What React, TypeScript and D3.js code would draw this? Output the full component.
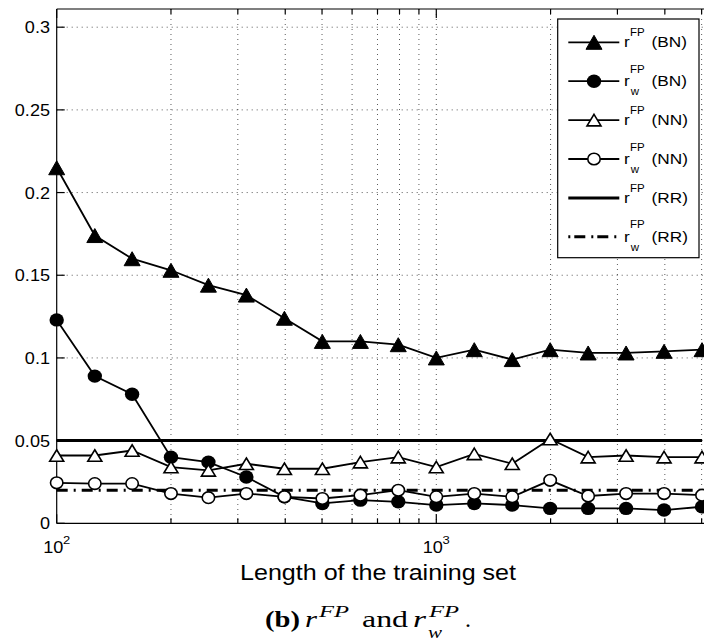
import React from 'react';
import * as d3 from 'd3';

// training set lengths (log axis)
const lengths = [100, 126, 158, 200, 251, 316, 398, 501, 631, 794, 1000, 1259, 1585, 1995, 2512, 3162, 3981, 5012];

// r^FP and r_w^FP for each method
const rBN = [0.215, 0.174, 0.16, 0.153, 0.144, 0.138, 0.124, 0.11, 0.11, 0.108, 0.1, 0.105, 0.099, 0.105, 0.103, 0.103, 0.104, 0.105];
const rwBN = [0.123, 0.089, 0.078, 0.04, 0.037, 0.028, 0.016, 0.012, 0.014, 0.013, 0.011, 0.012, 0.011, 0.009, 0.009, 0.009, 0.008, 0.01];
const rNN = [0.041, 0.041, 0.044, 0.034, 0.032, 0.036, 0.033, 0.033, 0.037, 0.04, 0.034, 0.042, 0.036, 0.051, 0.04, 0.041, 0.04, 0.04];
const rwNN = [0.0245, 0.024, 0.024, 0.018, 0.0155, 0.018, 0.016, 0.015, 0.017, 0.02, 0.016, 0.018, 0.016, 0.026, 0.0165, 0.018, 0.018, 0.017];
const rRR = 0.05;
const rwRR = 0.02;

const yTicks = [0, 0.05, 0.1, 0.15, 0.2, 0.25, 0.3];
const yTickLabels = ['0', '0.05', '0.1', '0.15', '0.2', '0.25', '0.3'];
const xMajor = [100, 1000];
const xMajorExp = ['2', '3'];
const xMinor = [200, 300, 400, 500, 600, 700, 800, 900, 2000, 3000, 4000, 5000];

const SANS = 'Liberation Sans, Arial, Helvetica, sans-serif';
const SERIF = 'Liberation Serif, Times New Roman, serif';

const W = 704;
const H = 642;
const left = 56.7;
const top = 9;
const bottom = 523.3;

const x = d3.scaleLog().domain([100, Math.pow(10, 3.72)]).range([left, left + 1.72 * 379.6]);
const y = d3.scaleLinear().domain([0, 0.311]).range([bottom, top]);

const line = d3.line<number>()
  .x((_, i) => x(lengths[i]))
  .y(d => y(d));

// markers
const triPath = (w: number, h: number) => `M0,${-h / 2}L${w / 2},${h / 2}L${-w / 2},${h / 2}Z`;

const Marker = ({ kind, cx, cy }: { kind: string; cx: number; cy: number }) => {
  if (kind === 'triF') return <path d={triPath(16, 14)} transform={`translate(${cx},${cy})`} fill="#000" stroke="#000" strokeWidth={1} />;
  if (kind === 'triO') return <path d={triPath(14, 11.5)} transform={`translate(${cx},${cy})`} fill="#fff" stroke="#000" strokeWidth={1.6} />;
  if (kind === 'circF') return <ellipse cx={cx} cy={cy} rx={7.2} ry={6.7} fill="#000" />;
  return <ellipse cx={cx} cy={cy} rx={6.2} ry={5.8} fill="#fff" stroke="#000" strokeWidth={1.6} />;
};

const series = [
  { vals: rBN, kind: 'triF' },
  { vals: rwBN, kind: 'circF' },
  { vals: rNN, kind: 'triO' },
  { vals: rwNN, kind: 'circO' },
];

const legendRows = [
  { kind: 'triF', w: false, method: 'BN' },
  { kind: 'circF', w: true, method: 'BN' },
  { kind: 'triO', w: false, method: 'NN' },
  { kind: 'circO', w: true, method: 'NN' },
  { kind: 'solid', w: false, method: 'RR' },
  { kind: 'dashdot', w: true, method: 'RR' },
];

const Stretch = ({ x0, y0, sx, children }: any) => (
  <g transform={`translate(${x0},${y0}) scale(${sx},1)`}>{children}</g>
);

export default function App() {
  const xEnd = x.range()[1];
  const dashDot = '11,6,2,6';

  return (
    <svg width={W} height={H} style={{ position: 'absolute', left: 0, top: 0, background: '#fff' }}>
      <rect width={W} height={H} fill="#fff" />

      {/* grid */}
      <g stroke="#000" strokeOpacity={0.65} strokeWidth={1} strokeDasharray="1,4">
        {yTicks.filter(t => t > 0).map(t => (
          <line key={'gy' + t} x1={left} x2={xEnd} y1={y(t)} y2={y(t)} />
        ))}
        {[...xMinor, 1000].map(v => (
          <line key={'gx' + v} x1={x(v)} x2={x(v)} y1={top} y2={bottom} />
        ))}
      </g>

      {/* axes box */}
      <g stroke="#000" strokeWidth={1.2} fill="none">
        <line x1={left} x2={left} y1={top} y2={bottom} />
        <line x1={left} x2={xEnd} y1={bottom} y2={bottom} />
        <line x1={left} x2={xEnd} y1={top} y2={top} />
        {yTicks.map(t => (
          <line key={'ty' + t} x1={left} x2={left + 8} y1={y(t)} y2={y(t)} />
        ))}
        {xMajor.map(v => (
          <g key={'tM' + v}>
            <line x1={x(v)} x2={x(v)} y1={bottom} y2={bottom - 9} />
            <line x1={x(v)} x2={x(v)} y1={top} y2={top + 9} />
          </g>
        ))}
        {xMinor.map(v => (
          <g key={'tm' + v}>
            <line x1={x(v)} x2={x(v)} y1={bottom} y2={bottom - 5} />
            <line x1={x(v)} x2={x(v)} y1={top} y2={top + 5} />
          </g>
        ))}
      </g>

      {/* y tick labels */}
      <g fontFamily={SANS} fontSize={16} fill="#000">
        {yTicks.map((t, i) => (
          <Stretch key={'ly' + t} x0={50} y0={y(t) + 6} sx={1.13}>
            <text textAnchor="end">{yTickLabels[i]}</text>
          </Stretch>
        ))}
        {xMajor.map((v, i) => (
          <g key={'lx' + v}>
            <Stretch x0={x(v) - 13.5} y0={553} sx={1.13}>
              <text>10</text>
            </Stretch>
            <Stretch x0={x(v) + 6.3} y0={544} sx={1.13}>
              <text fontSize={11.5}>{xMajorExp[i]}</text>
            </Stretch>
          </g>
        ))}
      </g>

      {/* reference lines (RR) */}
      <line x1={x(lengths[0])} x2={x(lengths[lengths.length - 1])} y1={y(rRR)} y2={y(rRR)} stroke="#000" strokeWidth={3} />
      <line x1={x(lengths[0])} x2={x(lengths[lengths.length - 1])} y1={y(rwRR)} y2={y(rwRR)} stroke="#000" strokeWidth={3} strokeDasharray={dashDot} />

      {/* series */}
      {series.map((s, si) => (
        <g key={'s' + si}>
          <path d={line(s.vals) || ''} fill="none" stroke="#000" strokeWidth={1.8} />
          {s.vals.map((v, i) => (
            <Marker key={i} kind={s.kind} cx={x(lengths[i])} cy={y(v)} />
          ))}
        </g>
      ))}

      {/* legend */}
      <g>
        <rect x={557.7} y={19} width={141.3} height={238.7} fill="#fff" stroke="#000" strokeWidth={1.2} />
        {legendRows.map((r, i) => {
          const ly = 42.3 + i * 38.9;
          return (
            <g key={'lg' + i}>
              {r.kind === 'dashdot' ? (
                <line x1={568.3} x2={619.3} y1={ly} y2={ly} stroke="#000" strokeWidth={3} strokeDasharray="2,4,11,6" />
              ) : (
                <line x1={568.3} x2={619.3} y1={ly} y2={ly} stroke="#000" strokeWidth={r.kind === 'solid' ? 3 : 1.8} />
              )}
              {r.kind !== 'solid' && r.kind !== 'dashdot' && <Marker kind={r.kind} cx={594} cy={ly} />}
              <Stretch x0={624} y0={ly + 5} sx={1.15}>
                <text fontFamily={SANS} fontSize={15}>r</text>
                <text fontFamily={SANS} fontSize={10} x={5.2} y={r.w ? -13.5 : -11}>FP</text>
                {r.w && <text fontFamily={SANS} fontSize={10} x={5.8} y={9}>w</text>}
                <text fontFamily={SANS} fontSize={15} x={24}>({r.method})</text>
              </Stretch>
            </g>
          );
        })}
      </g>

      {/* x label */}
      <text x={240} y={580} fontFamily={SANS} fontSize={22} textLength={276} lengthAdjust="spacingAndGlyphs">
        Length of the training set
      </text>

      {/* caption */}
      <g fontFamily={SERIF} fill="#000">
        <text x={265} y={626.7} fontSize={24} fontWeight="bold" textLength={35} lengthAdjust="spacingAndGlyphs">(b)</text>
        <text x={305} y={626.7} fontSize={24} fontStyle="italic" textLength={12} lengthAdjust="spacingAndGlyphs">r</text>
        <text x={319} y={616.5} fontSize={16} fontStyle="italic" textLength={30} lengthAdjust="spacingAndGlyphs">FP</text>
        <text x={362} y={626.7} fontSize={24} textLength={46} lengthAdjust="spacingAndGlyphs">and</text>
        <text x={413} y={626.7} fontSize={24} fontStyle="italic" textLength={13} lengthAdjust="spacingAndGlyphs">r</text>
        <text x={429} y={616.5} fontSize={16} fontStyle="italic" textLength={30} lengthAdjust="spacingAndGlyphs">FP</text>
        <text x={428} y={638} fontSize={16} fontStyle="italic" textLength={14} lengthAdjust="spacingAndGlyphs">w</text>
        <text x={465} y={626.7} fontSize={24}>.</text>
      </g>
    </svg>
  );
}
